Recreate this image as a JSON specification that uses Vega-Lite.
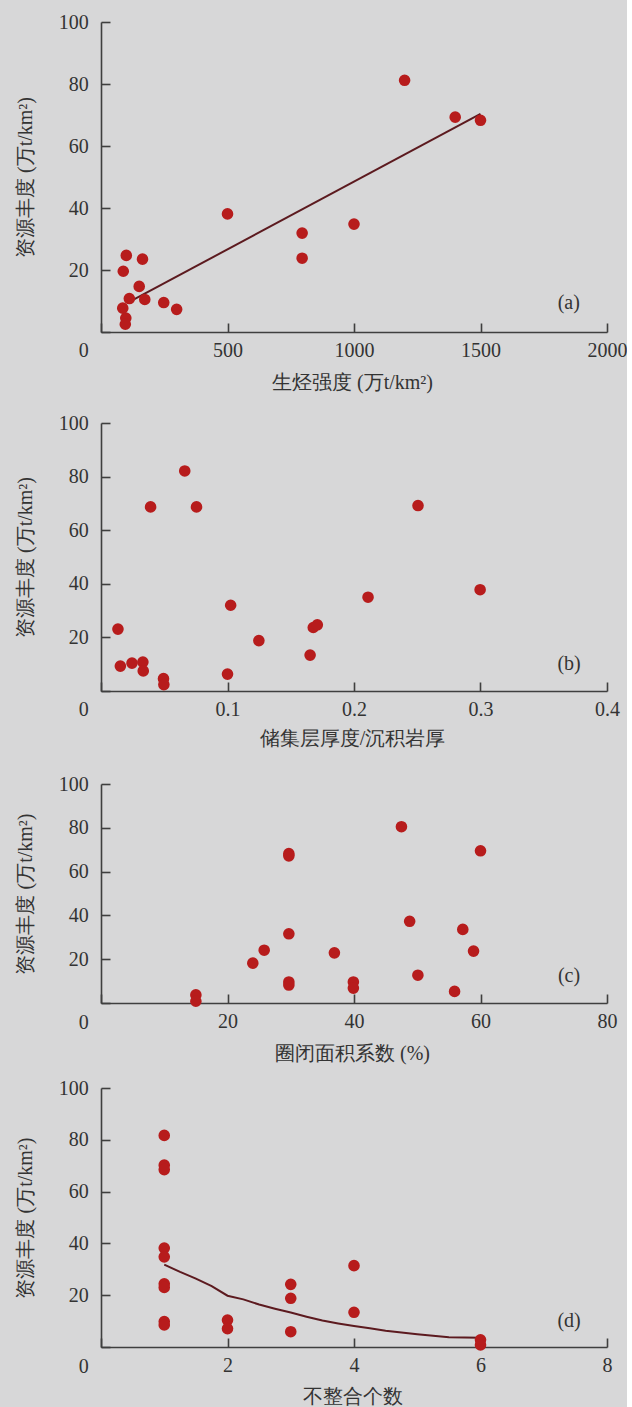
{
  "$schema": "https://vega.github.io/schema/vega-lite/v6.json",
  "background": "#d7d7d8",
  "padding": {"left": 14, "top": 12, "right": 0, "bottom": 0},
  "spacing": 15,
  "datasets": {
    "a_pts": [
      {"x": 100, "y": 24.7}, {"x": 164, "y": 23.5}, {"x": 88, "y": 19.6}, {"x": 151, "y": 14.7},
      {"x": 112, "y": 10.8}, {"x": 173, "y": 10.5}, {"x": 248, "y": 9.5}, {"x": 299, "y": 7.3},
      {"x": 86, "y": 7.7}, {"x": 98, "y": 4.5}, {"x": 96, "y": 2.5}, {"x": 500, "y": 38.1},
      {"x": 795, "y": 31.9}, {"x": 795, "y": 23.8}, {"x": 1000, "y": 34.8}, {"x": 1200, "y": 81.2},
      {"x": 1400, "y": 69.3}, {"x": 1500, "y": 68.3}
    ],
    "a_line": [{"x": 110, "y": 9.6}, {"x": 1500, "y": 70.4}],
    "b_pts": [
      {"x": 0.0134, "y": 23.1}, {"x": 0.0153, "y": 9.3}, {"x": 0.0245, "y": 10.4}, {"x": 0.0331, "y": 10.8},
      {"x": 0.0334, "y": 7.5}, {"x": 0.0494, "y": 4.6}, {"x": 0.0497, "y": 2.4}, {"x": 0.0392, "y": 68.7},
      {"x": 0.0662, "y": 82.1}, {"x": 0.0755, "y": 68.7}, {"x": 0.1, "y": 6.3}, {"x": 0.1025, "y": 32.0},
      {"x": 0.1248, "y": 18.8}, {"x": 0.1653, "y": 13.4}, {"x": 0.1678, "y": 23.7}, {"x": 0.171, "y": 24.7},
      {"x": 0.2111, "y": 35.0}, {"x": 0.2506, "y": 69.2}, {"x": 0.2997, "y": 37.8}
    ],
    "c_pts": [
      {"x": 15, "y": 3.7}, {"x": 15, "y": 0.8}, {"x": 24, "y": 18.2}, {"x": 25.8, "y": 24.1},
      {"x": 29.7, "y": 68.2}, {"x": 29.7, "y": 67.2}, {"x": 29.7, "y": 31.6}, {"x": 29.7, "y": 9.6},
      {"x": 29.7, "y": 8.2}, {"x": 36.9, "y": 22.9}, {"x": 39.9, "y": 9.6}, {"x": 39.9, "y": 6.8},
      {"x": 47.5, "y": 80.5}, {"x": 48.8, "y": 37.3}, {"x": 50.1, "y": 12.7}, {"x": 55.9, "y": 5.3},
      {"x": 57.2, "y": 33.6}, {"x": 58.9, "y": 23.7}, {"x": 60, "y": 69.5}
    ],
    "d_pts": [
      {"x": 1, "y": 81.7}, {"x": 1, "y": 70.2}, {"x": 1, "y": 68.5}, {"x": 1, "y": 38.2}, {"x": 1, "y": 34.8},
      {"x": 1, "y": 24.4}, {"x": 1, "y": 23.0}, {"x": 1, "y": 9.8}, {"x": 1, "y": 8.5},
      {"x": 2, "y": 10.4}, {"x": 2, "y": 7.1},
      {"x": 3, "y": 24.2}, {"x": 3, "y": 18.8}, {"x": 3, "y": 5.9},
      {"x": 4, "y": 31.4}, {"x": 4, "y": 13.4},
      {"x": 6, "y": 2.8}, {"x": 6, "y": 0.8}
    ],
    "d_line": [
      {"x": 1, "y": 31.8}, {"x": 1.25, "y": 29}, {"x": 1.5, "y": 26.4}, {"x": 1.75, "y": 23.5},
      {"x": 2, "y": 19.8}, {"x": 2.25, "y": 18.4}, {"x": 2.5, "y": 16.4}, {"x": 2.75, "y": 14.8},
      {"x": 3, "y": 13.3}, {"x": 3.25, "y": 11.7}, {"x": 3.5, "y": 10.2}, {"x": 3.75, "y": 9.1},
      {"x": 4, "y": 8.1}, {"x": 4.25, "y": 7.2}, {"x": 4.5, "y": 6.3}, {"x": 4.75, "y": 5.6},
      {"x": 5, "y": 4.9}, {"x": 5.25, "y": 4.3}, {"x": 5.5, "y": 3.8}, {"x": 5.75, "y": 3.7}, {"x": 6, "y": 3.6}
    ]
  },
  "vconcat": [
    {
      "width": 506,
      "height": 310,
      "encoding": {
        "x": {"field": "x", "type": "quantitative", "scale": {"domain": [0, 2000], "nice": false, "zero": false},
          "axis": {"title": "生烃强度 (万t/km²)", "values": [0, 500, 1000, 1500, 2000], "format": "d",
            "labelFont": "Liberation Serif", "titleFont": "Liberation Serif",
            "labelExpr": "datum.value === 0 ? '' : datum.label", "titleX": 251, "titleY": 50}},
        "y": {"field": "y", "type": "quantitative", "scale": {"domain": [0, 100], "nice": false},
          "axis": {"title": "资源丰度 (万t/km²)", "values": [0, 20, 40, 60, 80, 100], "format": "d", "titleX": -76, "titleY": 155,
            "labelFont": "Liberation Serif", "titleFont": "Liberation Serif",
            "labelOffset": {"condition": {"test": "datum.value === 0", "value": 18}, "value": 0}}}
      },
      "layer": [
        {"data": {"name": "a_line"}, "mark": {"type": "line", "color": "#5c1a1f", "strokeWidth": 2}},
        {"data": {"name": "a_pts"}, "mark": {"type": "circle", "size": 135, "color": "#b71c1c", "opacity": 1}},
        {"data": {"values": [{"x": 1849, "y": 9.3, "label": "(a)"}]},
          "mark": {"type": "text", "font": "Liberation Serif", "fontSize": 20, "color": "#333333"},
          "encoding": {"text": {"field": "label"}}}
      ]
    },
    {
      "width": 506,
      "height": 268,
      "title": {"text": " ", "fontSize": 2, "offset": 3.6},
      "encoding": {
        "x": {"field": "x", "type": "quantitative", "scale": {"domain": [0, 0.4], "nice": false, "zero": false},
          "axis": {"title": "储集层厚度/沉积岩厚", "values": [0, 0.1, 0.2, 0.3, 0.4], "format": ".1f",
            "labelFont": "Liberation Serif", "titleFont": "Liberation Serif",
            "labelExpr": "datum.value === 0 ? '' : datum.label", "titleX": 251, "titleY": 47.6}},
        "y": {"field": "y", "type": "quantitative", "scale": {"domain": [0, 100], "nice": false},
          "axis": {"title": "资源丰度 (万t/km²)", "values": [0, 20, 40, 60, 80, 100], "format": "d", "titleX": -76, "titleY": 134,
            "labelFont": "Liberation Serif", "titleFont": "Liberation Serif",
            "labelOffset": {"condition": {"test": "datum.value === 0", "value": 18}, "value": 0}}}
      },
      "layer": [
        {"data": {"name": "b_pts"}, "mark": {"type": "circle", "size": 135, "color": "#b71c1c", "opacity": 1}},
        {"data": {"values": [{"x": 0.37, "y": 9.9, "label": "(b)"}]},
          "mark": {"type": "text", "font": "Liberation Serif", "fontSize": 20, "color": "#333333"},
          "encoding": {"text": {"field": "label"}}}
      ]
    },
    {
      "width": 506,
      "height": 219,
      "title": {"text": " ", "fontSize": 2, "offset": 8},
      "encoding": {
        "x": {"field": "x", "type": "quantitative", "scale": {"domain": [0, 80], "nice": false, "zero": false},
          "axis": {"title": "圈闭面积系数 (%)", "values": [0, 20, 40, 60, 80], "format": "d",
            "labelFont": "Liberation Serif", "titleFont": "Liberation Serif",
            "labelExpr": "datum.value === 0 ? '' : datum.label", "titleX": 251, "titleY": 50}},
        "y": {"field": "y", "type": "quantitative", "scale": {"domain": [0, 100], "nice": false},
          "axis": {"title": "资源丰度 (万t/km²)", "values": [0, 20, 40, 60, 80, 100], "format": "d", "titleX": -76, "titleY": 109.5,
            "labelFont": "Liberation Serif", "titleFont": "Liberation Serif",
            "labelOffset": {"condition": {"test": "datum.value === 0", "value": 19}, "value": 0}}}
      },
      "layer": [
        {"data": {"name": "c_pts"}, "mark": {"type": "circle", "size": 135, "color": "#b71c1c", "opacity": 1}},
        {"data": {"values": [{"x": 74, "y": 12.2, "label": "(c)"}]},
          "mark": {"type": "text", "font": "Liberation Serif", "fontSize": 20, "color": "#333333"},
          "encoding": {"text": {"field": "label"}}}
      ]
    },
    {
      "width": 506,
      "height": 259,
      "encoding": {
        "x": {"field": "x", "type": "quantitative", "scale": {"domain": [0, 8], "nice": false, "zero": false},
          "axis": {"title": "不整合个数", "values": [0, 2, 4, 6, 8], "format": "d",
            "labelFont": "Liberation Serif", "titleFont": "Liberation Serif",
            "labelExpr": "datum.value === 0 ? '' : datum.label", "titleX": 251, "titleY": 49.5}},
        "y": {"field": "y", "type": "quantitative", "scale": {"domain": [0, 100], "nice": false},
          "axis": {"title": "资源丰度 (万t/km²)", "values": [0, 20, 40, 60, 80, 100], "format": "d", "titleX": -76, "titleY": 129.5,
            "labelFont": "Liberation Serif", "titleFont": "Liberation Serif",
            "labelOffset": {"condition": {"test": "datum.value === 0", "value": 19}, "value": 0}}}
      },
      "layer": [
        {"data": {"name": "d_line"}, "mark": {"type": "line", "color": "#5c1a1f", "strokeWidth": 2}},
        {"data": {"name": "d_pts"}, "mark": {"type": "circle", "size": 135, "color": "#b71c1c", "opacity": 1}},
        {"data": {"values": [{"x": 7.4, "y": 10, "label": "(d)"}]},
          "mark": {"type": "text", "font": "Liberation Serif", "fontSize": 20, "color": "#333333"},
          "encoding": {"text": {"field": "label"}}}
      ]
    }
  ],
  "config": {
    "font": "Liberation Serif",
    "view": {"stroke": null},
    "axis": {
      "grid": false,
      "domainColor": "#3f3f3f",
      "domainWidth": 1.6,
      "tickColor": "#3f3f3f",
      "tickWidth": 1.6,
      "tickSize": -9,
      "labelFontSize": 20,
      "labelColor": "#333333",
      "labelFlush": false,
      "labelOverlap": false,
      "titleFontSize": 20,
      "titleFontWeight": "normal",
      "titleColor": "#333333",
      "titleBaseline": "middle",
      "titleAlign": "center"
    },
    "axisY": {"labelPadding": 21.7, "labelBaseline": "middle"},
    "axisX": {"labelPadding": 27, "labelBaseline": "middle"}
  }
}
